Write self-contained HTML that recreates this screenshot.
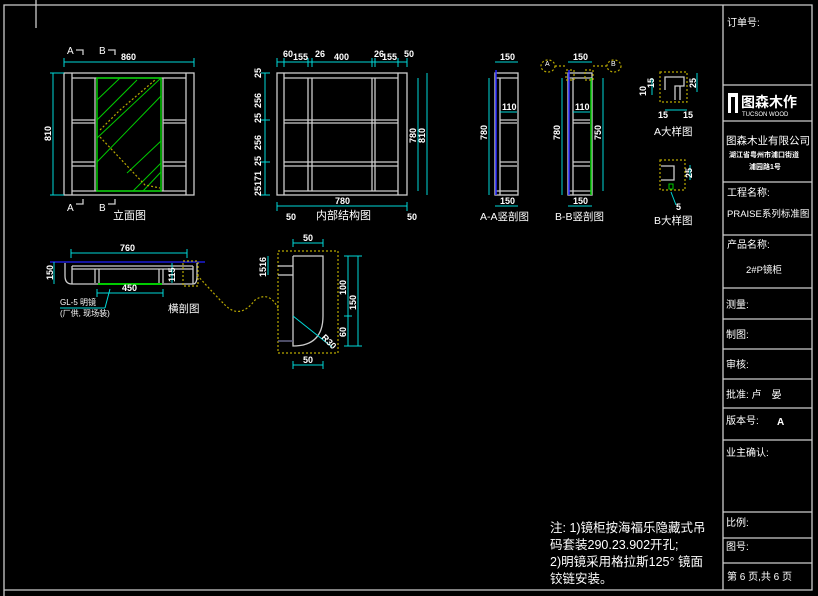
<!DOCTYPE html>
<html><head><meta charset="utf-8"><style>
html,body{margin:0;padding:0;background:#000;}
svg{display:block;}
text{font-family:"Liberation Sans","Noto Sans CJK SC",sans-serif;fill:#fff;}
.w{stroke:#ccc;stroke-width:1.3;fill:none;}
.c{stroke:#00d8d8;stroke-width:1;fill:none;}
.g{stroke:#0c0;stroke-width:1.5;fill:none;}
.y{stroke:#b8a800;stroke-width:1.2;stroke-dasharray:2,2;fill:none;}
.d{font-size:9px;font-weight:bold;}
.t{font-size:10px;}
.p{font-size:10px;}
</style></head><body>
<svg width="818" height="596" viewBox="0 0 818 596" xmlns="http://www.w3.org/2000/svg">
<rect width="818" height="596" fill="#000"/>
<polyline points="4,596 4,5 812,5 812,590 4,590" class="w"/>
<line x1="36" y1="0" x2="36" y2="28" class="w"/>
<line x1="723" y1="5" x2="723" y2="590" class="w"/>
<g class="w">
<line x1="723" y1="85" x2="812" y2="85"/><line x1="723" y1="121" x2="812" y2="121"/>
<line x1="723" y1="182" x2="812" y2="182"/><line x1="723" y1="235" x2="812" y2="235"/>
<line x1="723" y1="288" x2="812" y2="288"/><line x1="723" y1="319" x2="812" y2="319"/>
<line x1="723" y1="349" x2="812" y2="349"/><line x1="723" y1="379" x2="812" y2="379"/>
<line x1="723" y1="408" x2="812" y2="408"/><line x1="723" y1="440" x2="812" y2="440"/>
<line x1="723" y1="512" x2="812" y2="512"/><line x1="723" y1="538" x2="812" y2="538"/>
<line x1="723" y1="563" x2="812" y2="563"/>
</g>
<text x="727" y="26" class="p">订单号:</text>
<rect x="728" y="93" width="10" height="20" fill="#fff"/>
<rect x="731" y="97" width="4" height="16" fill="#000"/>
<text x="741" y="107" style="font-size:14px;font-weight:bold">图森木作</text>
<text x="742" y="116" style="font-size:6px">TUCSON WOOD</text>
<text x="726" y="144" style="font-size:10.5px">图森木业有限公司</text>
<text x="729" y="157" style="font-size:7px;font-weight:bold">湖江省粤州市浦口街道</text>
<text x="749" y="169" style="font-size:7px;font-weight:bold">浦园路1号</text>
<text x="727" y="196" class="p">工程名称:</text>
<text x="727" y="217" style="font-size:9.5px">PRAISE系列标准图</text>
<text x="727" y="248" class="p">产品名称:</text>
<text x="746" y="273" style="font-size:9.5px">2#P镜柜</text>
<text x="726" y="308" class="p">测量:</text>
<text x="726" y="338" class="p">制图:</text>
<text x="726" y="368" class="p">审核:</text>
<text x="726" y="398" class="p">批准: 卢　晏</text>
<text x="726" y="424" class="p">版本号:</text><text x="777" y="425" class="p" style="font-weight:bold">A</text>
<text x="726" y="456" class="p">业主确认:</text>
<text x="726" y="526" class="p">比例:</text>
<text x="726" y="550" class="p">图号:</text>
<text x="727" y="580" class="p">第 6 页,共 6 页</text>
<text x="550" y="532" style="font-size:12.5px">注: 1)镜柜按海福乐隐藏式吊</text>
<text x="550" y="549" style="font-size:12.5px">码套装290.23.902开孔;</text>
<text x="550" y="566" style="font-size:12.5px">2)明镜采用格拉斯125° 镜面</text>
<text x="550" y="583" style="font-size:12.5px">铰链安装。</text>

<!-- 立面图 -->
<g class="w">
<rect x="64" y="73" width="130" height="122"/>
<line x1="72" y1="73" x2="72" y2="195"/><line x1="186" y1="73" x2="186" y2="195"/>
<line x1="72" y1="78" x2="186" y2="78"/><line x1="72" y1="191" x2="186" y2="191"/>
<line x1="95" y1="78" x2="95" y2="191"/><line x1="163" y1="78" x2="163" y2="191"/>
<line x1="72" y1="120" x2="95" y2="120"/><line x1="72" y1="123" x2="95" y2="123"/>
<line x1="72" y1="162" x2="95" y2="162"/><line x1="72" y1="166" x2="95" y2="166"/>
<line x1="163" y1="120" x2="186" y2="120"/><line x1="163" y1="123" x2="186" y2="123"/>
<line x1="163" y1="162" x2="186" y2="162"/><line x1="163" y1="166" x2="186" y2="166"/>
</g>
<rect x="97" y="78" width="64" height="113" class="g"/>
<g class="g" style="stroke-width:1">
<line x1="97" y1="100" x2="120" y2="78"/><line x1="97" y1="120" x2="137" y2="80"/>
<line x1="97" y1="138" x2="161" y2="78"/><line x1="97" y1="162" x2="161" y2="96"/>
<line x1="127" y1="173" x2="161" y2="141"/><line x1="133" y1="191" x2="161" y2="163"/>
<line x1="143" y1="191" x2="161" y2="172"/>
</g>
<polyline points="100,130 120,110 155,80" class="y"/><polyline points="100,137 145,185 160,188" class="y"/>
<g class="c"><line x1="64" y1="62" x2="194" y2="62"/><line x1="53" y1="73" x2="53" y2="195"/>
<line x1="50" y1="73" x2="64" y2="73"/><line x1="50" y1="195" x2="64" y2="195"/>
<line x1="64" y1="58" x2="64" y2="67"/><line x1="194" y1="58" x2="194" y2="67"/></g>
<text x="121" y="60" class="d">860</text>
<text transform="translate(51,141) rotate(-90)" class="d">810</text>
<text x="67" y="54" class="t">A</text><text x="99" y="54" class="t">B</text>
<polyline points="76,50 83,50 83,55" class="w"/><polyline points="108,50 115,50 115,55" class="w"/>
<text x="67" y="211" class="t">A</text><text x="99" y="211" class="t">B</text>
<polyline points="76,204 83,204 83,199" class="w"/><polyline points="108,204 115,204 115,199" class="w"/>
<text x="113" y="219" style="font-size:11px">立面图</text>

<!-- 内部结构图 -->
<g class="w">
<rect x="277" y="73" width="130" height="122"/>
<line x1="284" y1="73" x2="284" y2="195"/><line x1="398" y1="73" x2="398" y2="195"/>
<line x1="284" y1="78" x2="398" y2="78"/><line x1="284" y1="191" x2="398" y2="191"/>
<line x1="308" y1="78" x2="308" y2="191"/><line x1="312" y1="78" x2="312" y2="191"/>
<line x1="372" y1="78" x2="372" y2="191"/><line x1="375" y1="78" x2="375" y2="191"/>
<line x1="284" y1="120" x2="398" y2="120"/><line x1="284" y1="123" x2="398" y2="123"/>
<line x1="284" y1="162" x2="398" y2="162"/><line x1="284" y1="166" x2="398" y2="166"/>
</g>
<g class="c"><line x1="277" y1="62" x2="407" y2="62"/><line x1="265" y1="73" x2="265" y2="195"/>
<line x1="418" y1="78" x2="418" y2="191"/><line x1="427" y1="73" x2="427" y2="195"/>
<line x1="277" y1="206" x2="407" y2="206"/>
<line x1="277" y1="58" x2="277" y2="67"/><line x1="284" y1="58" x2="284" y2="67"/><line x1="308" y1="58" x2="308" y2="67"/>
<line x1="312" y1="58" x2="312" y2="67"/><line x1="372" y1="58" x2="372" y2="67"/><line x1="375" y1="58" x2="375" y2="67"/>
<line x1="398" y1="58" x2="398" y2="67"/><line x1="407" y1="58" x2="407" y2="67"/>
<line x1="261" y1="73" x2="270" y2="73"/><line x1="261" y1="120" x2="270" y2="120"/><line x1="261" y1="162" x2="270" y2="162"/><line x1="261" y1="195" x2="270" y2="195"/>
<line x1="277" y1="202" x2="277" y2="211"/><line x1="407" y1="202" x2="407" y2="211"/></g>
<text x="283" y="57" class="d">60</text><text x="293" y="60" class="d">155</text><text x="315" y="57" class="d">26</text>
<text x="334" y="60" class="d">400</text><text x="374" y="57" class="d">26</text><text x="382" y="60" class="d">155</text><text x="404" y="57" class="d">50</text>
<text transform="translate(261,78) rotate(-90)" class="d">25</text>
<text transform="translate(261,108) rotate(-90)" class="d">256</text>
<text transform="translate(261,123) rotate(-90)" class="d">25</text>
<text transform="translate(261,150) rotate(-90)" class="d">256</text>
<text transform="translate(261,166) rotate(-90)" class="d">25</text>
<text transform="translate(261,186) rotate(-90)" class="d">171</text>
<text transform="translate(261,196) rotate(-90)" class="d">25</text>
<text transform="translate(416,143) rotate(-90)" class="d">780</text>
<text transform="translate(425,143) rotate(-90)" class="d">810</text>
<text x="335" y="204" class="d">780</text>
<text x="286" y="220" class="d">50</text><text x="407" y="220" class="d">50</text>
<text x="316" y="219" style="font-size:11px">内部结构图</text>

<!-- A-A -->
<g class="w"><rect x="495" y="73" width="23" height="122"/>
<line x1="500" y1="78" x2="500" y2="195"/><line x1="495" y1="78" x2="518" y2="78"/>
<line x1="500" y1="120" x2="517" y2="120"/><line x1="500" y1="123" x2="517" y2="123"/>
<line x1="500" y1="162" x2="517" y2="162"/><line x1="500" y1="166" x2="517" y2="166"/>
<line x1="495" y1="191" x2="518" y2="191"/></g>
<line x1="496" y1="70" x2="496" y2="195" stroke="#22f" stroke-width="1.5"/>
<g class="c"><line x1="495" y1="62" x2="518" y2="62"/><line x1="489" y1="78" x2="489" y2="195"/>
<line x1="500" y1="112" x2="517" y2="112"/><line x1="495" y1="206" x2="518" y2="206"/></g>
<text x="500" y="60" class="d">150</text><text x="502" y="110" class="d">110</text><text x="500" y="204" class="d">150</text>
<text transform="translate(487,140) rotate(-90)" class="d">780</text>
<text x="480" y="220" style="font-size:10.5px">A-A竖剖图</text>

<!-- B-B -->
<g class="w"><rect x="568" y="73" width="24" height="122"/>
<line x1="573" y1="78" x2="573" y2="195"/><line x1="568" y1="78" x2="592" y2="78"/>
<line x1="573" y1="120" x2="590" y2="120"/><line x1="573" y1="123" x2="590" y2="123"/>
<line x1="573" y1="162" x2="590" y2="162"/><line x1="573" y1="166" x2="590" y2="166"/>
<line x1="568" y1="191" x2="592" y2="191"/></g>
<line x1="569" y1="70" x2="569" y2="195" stroke="#22f" stroke-width="1.5"/>
<line x1="591" y1="78" x2="591" y2="195" class="g"/>
<g class="c"><line x1="568" y1="62" x2="592" y2="62"/><line x1="562" y1="78" x2="562" y2="195"/>
<line x1="573" y1="112" x2="590" y2="112"/><line x1="568" y1="206" x2="592" y2="206"/>
<line x1="603" y1="78" x2="603" y2="191"/></g>
<text x="573" y="60" class="d">150</text><text x="575" y="110" class="d">110</text><text x="573" y="204" class="d">150</text>
<text transform="translate(560,140) rotate(-90)" class="d">780</text>
<text transform="translate(601,140) rotate(-90)" class="d">750</text>
<ellipse cx="548" cy="66" rx="7" ry="6" class="y"/><ellipse cx="614" cy="66" rx="7" ry="6" class="y"/>
<rect x="566" y="70" width="8" height="10" class="y"/><rect x="585" y="70" width="8" height="10" class="y"/>
<line x1="555" y1="66" x2="566" y2="66" class="y"/><line x1="593" y1="66" x2="607" y2="66" class="y"/>
<text x="545" y="66" style="font-size:7px">A</text><text x="611" y="66" style="font-size:7px">B</text>
<text x="555" y="220" style="font-size:10.5px">B-B竖剖图</text>

<!-- A大样图 -->
<rect x="660" y="72" width="27" height="30" class="y"/>
<polyline points="665,90 665,77 684,77 684,86 675,86 675,100" class="w"/>
<line x1="680" y1="86" x2="680" y2="100" class="w"/>
<g class="c"><line x1="652" y1="78" x2="652" y2="95"/><line x1="697" y1="73" x2="697" y2="92"/>
<line x1="665" y1="110" x2="687" y2="110"/></g>
<text transform="translate(646,96) rotate(-90)" class="d">10</text>
<text transform="translate(654,88) rotate(-90)" class="d">15</text>
<text transform="translate(696,88) rotate(-90)" class="d">25</text>
<text x="658" y="118" class="d">15</text><text x="683" y="118" class="d">15</text>
<text x="654" y="135" style="font-size:10.5px">A大样图</text>
<!-- B大样图 -->
<rect x="660" y="160" width="25" height="30" class="y"/>
<polyline points="661,166 674,166 674,180 661,180" class="w"/>
<rect x="669" y="184" width="4" height="5" class="g" style="stroke-width:1"/>
<g class="c"><line x1="690" y1="165" x2="690" y2="180"/><line x1="671" y1="192" x2="676" y2="205"/></g>
<text transform="translate(692,178) rotate(-90)" class="d">25</text>
<text x="676" y="210" class="d">5</text>
<text x="654" y="224" style="font-size:10.5px">B大样图</text>

<!-- 横剖图 -->
<line x1="50" y1="262" x2="205" y2="262" stroke="#22f" stroke-width="1.2"/>
<g class="w">
<path d="M65,263 L65,276 Q65,284 72,284 L193,284 Q197,284 197,276 L197,263"/>
<line x1="72" y1="266" x2="193" y2="266"/><line x1="72" y1="269" x2="193" y2="269"/>
<line x1="72" y1="266" x2="72" y2="284"/><line x1="193" y1="266" x2="193" y2="284"/>
<line x1="95" y1="269" x2="95" y2="283"/><line x1="99" y1="269" x2="99" y2="283"/>
<line x1="159" y1="269" x2="159" y2="283"/><line x1="163" y1="269" x2="163" y2="283"/>
</g>
<line x1="98" y1="284" x2="162" y2="284" stroke="#0c0" stroke-width="2"/>
<rect x="183" y="261" width="15" height="25" class="y"/>
<path d="M197,275 Q215,295 225,305 Q240,320 255,300 Q270,290 279,310" class="y"/>
<g class="c"><line x1="71" y1="253" x2="187" y2="253"/><line x1="54" y1="262" x2="54" y2="284"/>
<line x1="97" y1="293" x2="163" y2="293"/><line x1="172" y1="263" x2="172" y2="283"/>
<line x1="60" y1="308" x2="105" y2="308"/><line x1="105" y1="308" x2="110" y2="289"/>
<line x1="71" y1="249" x2="71" y2="258"/><line x1="187" y1="249" x2="187" y2="258"/>
<line x1="97" y1="289" x2="97" y2="297"/><line x1="163" y1="289" x2="163" y2="297"/></g>
<text x="120" y="251" class="d">760</text><text x="122" y="291" class="d">450</text>
<text transform="translate(53,280) rotate(-90)" class="d">150</text>
<text transform="translate(175,282) rotate(-90)" class="d">115</text>
<text x="60" y="305" style="font-size:8px">GL-5 明镜</text>
<text x="60" y="316" style="font-size:8px">(厂供, 现场装)</text>
<text x="168" y="312" style="font-size:10.5px">横剖图</text>
<!-- detail -->
<rect x="278" y="251" width="60" height="102" class="y"/>
<path d="M293,256 L323,256 L323,316 Q323,346 293,346 L293,256" class="w"/>
<line x1="278" y1="266" x2="293" y2="266" class="w"/><line x1="278" y1="275" x2="293" y2="275" class="w"/>
<line x1="278" y1="341" x2="293" y2="341" stroke="#668" stroke-width="1.5"/>
<g class="c"><line x1="293" y1="316" x2="332" y2="347"/>
<line x1="293" y1="243" x2="323" y2="243"/><line x1="293" y1="365" x2="323" y2="365"/>
<line x1="348" y1="256" x2="348" y2="346"/><line x1="358" y1="256" x2="358" y2="346"/>
<line x1="268" y1="256" x2="268" y2="275"/>
<line x1="293" y1="239" x2="293" y2="247"/><line x1="323" y1="239" x2="323" y2="247"/>
<line x1="293" y1="361" x2="293" y2="369"/><line x1="323" y1="361" x2="323" y2="369"/>
<line x1="344" y1="256" x2="362" y2="256"/><line x1="344" y1="316" x2="352" y2="316"/><line x1="344" y1="346" x2="362" y2="346"/></g>
<text x="303" y="241" class="d">50</text><text x="303" y="363" class="d">50</text>
<text transform="translate(346,295) rotate(-90)" class="d">100</text>
<text transform="translate(346,337) rotate(-90)" class="d">60</text>
<text transform="translate(356,310) rotate(-90)" class="d">150</text>
<text transform="translate(266,277) rotate(-90)" class="d">1516</text>
<text transform="translate(321,338) rotate(45)" class="d">R30</text>
</svg>
</body></html>
